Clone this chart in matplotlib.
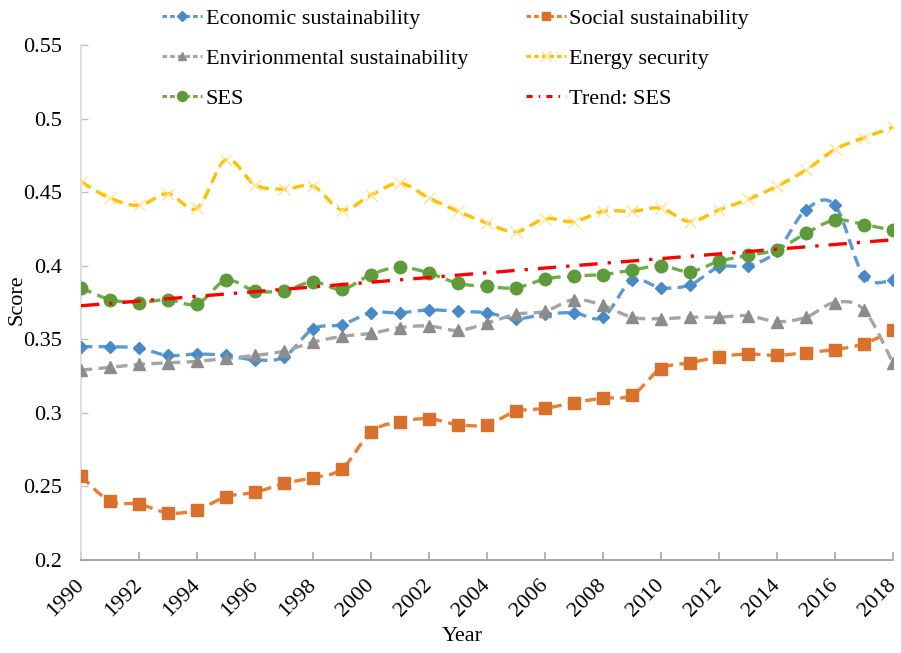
import numpy as np
import matplotlib
matplotlib.use("Agg")
import matplotlib.pyplot as plt
from matplotlib.lines import Line2D

years = list(range(1990, 2019))
economic = [0.345, 0.345, 0.344, 0.339, 0.340, 0.339, 0.336, 0.338, 0.357, 0.360,
            0.368, 0.368, 0.370, 0.369, 0.368, 0.364, 0.367, 0.368, 0.365, 0.390,
            0.385, 0.387, 0.399, 0.400, 0.410, 0.438, 0.441, 0.393, 0.390]
social = [0.257, 0.240, 0.238, 0.232, 0.234, 0.243, 0.246, 0.252, 0.256, 0.262,
          0.287, 0.294, 0.296, 0.292, 0.292, 0.301, 0.303, 0.307, 0.310, 0.312,
          0.330, 0.334, 0.338, 0.340, 0.339, 0.341, 0.343, 0.347, 0.356]
environmental = [0.329, 0.331, 0.333, 0.334, 0.335, 0.337, 0.339, 0.342, 0.348, 0.352,
                 0.354, 0.358, 0.359, 0.356, 0.361, 0.367, 0.369, 0.377, 0.373, 0.365,
                 0.364, 0.365, 0.365, 0.366, 0.362, 0.365, 0.375, 0.370, 0.334]
energy = [0.457, 0.446, 0.441, 0.449, 0.439, 0.472, 0.455, 0.452, 0.454, 0.438,
          0.448, 0.456, 0.446, 0.437, 0.429, 0.423, 0.432, 0.430, 0.437, 0.437,
          0.439, 0.430, 0.438, 0.445, 0.454, 0.465, 0.479, 0.487, 0.494]
ses = [0.385, 0.377, 0.375, 0.377, 0.374, 0.390, 0.383, 0.383, 0.389, 0.384,
       0.394, 0.399, 0.395, 0.388, 0.386, 0.385, 0.391, 0.393, 0.394, 0.397,
       0.400, 0.396, 0.403, 0.407, 0.411, 0.422, 0.431, 0.428, 0.424]
labels = ["Economic sustainability", "Social sustainability",
          "Envirionmental sustainability", "Energy security", "SES", "Trend: SES"]


def smooth(x, y, n=20):
    # Catmull-Rom style smoothing similar to spreadsheet "smoothed line"
    x = np.asarray(x, float); y = np.asarray(y, float)
    px = np.concatenate([[x[0]], x, [x[-1]]])
    py = np.concatenate([[y[0]], y, [y[-1]]])
    xs, ys = [], []
    for i in range(1, len(px) - 2):
        p0, p1, p2, p3 = (np.array([px[j], py[j]]) for j in (i - 1, i, i + 1, i + 2))
        c1 = p1 + (p2 - p0) / 6.0
        c2 = p2 - (p3 - p1) / 6.0
        t = np.linspace(0, 1, n, endpoint=False)[:, None]
        pts = ((1 - t) ** 3) * p1 + 3 * ((1 - t) ** 2) * t * c1 + 3 * (1 - t) * t ** 2 * c2 + t ** 3 * p2
        xs.append(pts[:, 0]); ys.append(pts[:, 1])
    xs.append([x[-1]]); ys.append([y[-1]])
    return np.concatenate(xs), np.concatenate(ys)


plt.rcParams['font.family'] = ['Liberation Serif', 'DejaVu Serif']
FS = 16

fig = plt.figure(figsize=(9.01, 6.53), dpi=100)
ax = fig.add_axes([0.0899, 0.1424, 0.9011, 0.7887])

series = [
    (economic, "#5B9BD5", "#4A89C8", "D", 6.5, 1.0),
    (social, "#ED7D31", "#D9702B", "s", 8, 1.0),
    (environmental, "#A5A5A5", "#8C8C8C", "^", 8, 1.0),
    (energy, "#FFC000", "#FFE08A", "x", 9, 0.9),
    (ses, "#70AD47", "#5E9A3A", "o", 9, 1.0),
]
handles = []
for (vals, lc, mc, mk, ms, mew), lab in zip(series, labels[:5]):
    sx, sy = smooth(years, vals)
    ax.plot(sx, sy, color=lc, lw=2.4, ls=(0, (3.4, 1.9)), zorder=3)
    ax.plot(years, vals, ls="none", marker=mk, color=mc, ms=ms,
            markeredgecolor=mc, markeredgewidth=mew, zorder=4)
    handles.append(Line2D([], [], color=lc, lw=2.2, ls=(0, (1.5, 1)), marker=mk,
                          markerfacecolor=mc, markeredgecolor=mc, ms=ms * 0.8))

coef = np.polyfit(years, ses, 1)
trend = np.polyval(coef, years)
ax.plot(years, trend, color="#FF0000", lw=2.4, ls=(0, (5.5, 3, 1, 3)), zorder=5)
handles.append(Line2D([], [], color="#FF0000", lw=2.2, ls=(0, (2, 2, 0.5, 2))))

ax.set_xlim(1990, 2018)
ax.set_ylim(0.2, 0.55)
ax.set_xticks(list(range(1990, 2019, 2)))
ax.set_xticklabels([str(y) for y in range(1990, 2019, 2)], rotation=45,
                   ha="right", va="center", rotation_mode="anchor", fontsize=FS)
ax.set_yticks([0.2, 0.25, 0.3, 0.35, 0.4, 0.45, 0.5, 0.55])
ax.set_yticklabels(["0.2", "0.25", "0.3", "0.35", "0.4", "0.45", "0.5", "0.55"], fontsize=FS)
ax.tick_params(axis="y", direction="in", length=5, color="#BFBFBF", width=1, pad=13.7)
ax.tick_params(axis="x", direction="in", length=6, color="#A6A6A6", width=1.2, pad=16)
for s in ("top", "right"):
    ax.spines[s].set_visible(False)
ax.spines["left"].set_color("#D9D9D9")
ax.spines["left"].set_linewidth(1.2)
ax.spines["bottom"].set_color("#A6A6A6")
ax.spines["bottom"].set_linewidth(1.4)
ax.set_ylabel("Score", fontsize=FS)
ax.set_xlabel("Year", fontsize=FS)
ax.yaxis.set_label_coords(-0.0677, 0.505)
ax.xaxis.set_label_coords(0.47, -0.131)

# row-major legend order for a 2-column legend
order = [0, 2, 4, 1, 3, 5]
leg = fig.legend([handles[i] for i in order], [labels[i] for i in order], ncol=2,
                 loc="upper left", bbox_to_anchor=(0.158, 1.018), frameon=False,
                 fontsize=FS, handlelength=1.8, handletextpad=0.15, columnspacing=2.6,
                 labelspacing=0.88)

fig.savefig("out.png", dpi=100)
